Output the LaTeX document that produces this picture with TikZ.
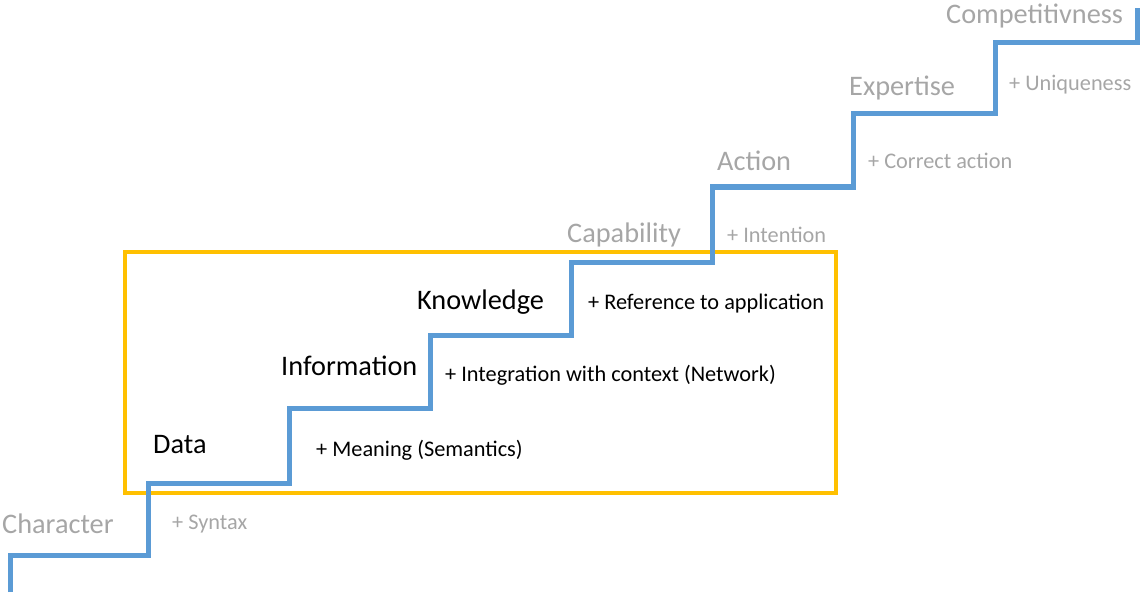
\documentclass[tikz,border=0pt]{standalone}
\usepackage{fontspec}
\setmainfont{Carlito}
\definecolor{stairblue}{HTML}{5B9BD5}
\definecolor{frameyellow}{HTML}{FFC000}
\definecolor{paleGrey}{HTML}{A6A6A6}
\tikzset{
	stairline/.style={draw=stairblue, line width=5pt, line join=miter},
	framebox/.style={draw=frameyellow, line width=4pt},
	stepname/.style={anchor=west, inner sep=0pt, font={\fontsize{28.3}{31}\selectfont}},
	stepgain/.style={anchor=west, inner sep=0pt, font={\fontsize{22.3}{25}\selectfont}},
	faded/.style={text=paleGrey},
}
\begin{document}
\begin{tikzpicture}[x=1pt, y=-1pt]
\useasboundingbox (0,0) rectangle (1142,596);
% frame round the inner steps
\draw [framebox] (125,252) rectangle (836,493);
% the stair
\draw [stairline] (10,592) |- (148,555) |- (289,483) |- (430,408) |- (571,335)
	|- (712,262) |- (853,187) |- (995,114) |- (1137,43) -- (1137,8);
% names of the steps
\node [stepname, faded] (character) at (2,524) {Character};
\node [stepname] (data) at (153,445) {Data};
\node [stepname] (information) at (281,366) {Information};
\node [stepname] (knowledge) at (417,302) {Knowledge};
\node [stepname, faded] (capability) at (567,235) {Capability};
\node [stepname, faded] (action) at (717,161) {Action};
\node [stepname, faded] (expertise) at (849,88) {Expertise};
\node [stepname, faded] (competitiveness) at (946,16) {Competitivness};
% what each step adds
\node [stepgain, faded] (syntax) at (172,524) {+ Syntax};
\node [stepgain] (meaning) at (316,450) {+ Meaning (Semantics)};
\node [stepgain] (context) at (445,375) {+ Integration with context (Network)};
\node [stepgain] (reference) at (588,304) {+ Reference to application};
\node [stepgain, faded] (intention) at (727,235) {+ Intention};
\node [stepgain, faded] (correct) at (868,161) {+ Correct action};
\node [stepgain, faded] (uniqueness) at (1009,85) {+ Uniqueness};
\end{tikzpicture}
\end{document}
